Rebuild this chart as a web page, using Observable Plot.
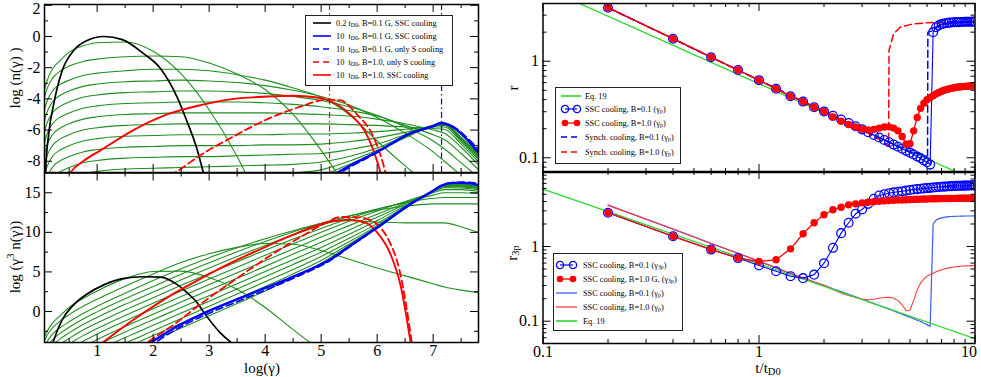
<!DOCTYPE html>
<html><head><meta charset="utf-8">
<script src="https://cdn.jsdelivr.net/npm/d3@7"></script>
<script src="https://cdn.jsdelivr.net/npm/@observablehq/plot@0.6"></script>
<style>
html,body{margin:0;padding:0;background:#fff;}
#chart{position:relative;width:981px;height:377px;overflow:hidden;background:#fff;font-family:"Liberation Serif","Times New Roman",serif;color:#000;}
#chart svg{position:absolute;left:0;top:0;background:transparent;overflow:visible;}
#chart svg text{font-family:"Liberation Serif","Times New Roman",serif !important;}
.lbl{position:absolute;font-size:15px;white-space:nowrap;line-height:1;}
.rot{transform:translate(-50%,-50%) rotate(-90deg);}
.ctr{transform:translate(-50%,-50%);}
.legend{position:absolute;background:#fff;border:1.5px solid #222;box-sizing:border-box;font-size:8.3px;}
.legend .row{position:absolute;left:0;height:12px;white-space:nowrap;}
.legend .row svg{position:absolute;top:0;}
.legend .row span{position:absolute;top:1px;line-height:11px;}
sub{font-size:70%;vertical-align:-0.25em;line-height:0;}
sup{font-size:70%;vertical-align:0.5em;line-height:0;}
</style></head><body><div id="chart"></div>
<script>
// ---------------- LEFT PANELS: log n(gamma) vs log(gamma) ----------------
const gammaGrid = [0.06,0.1,0.2,0.35,0.5,0.75,1,1.5,2,2.5,3,3.5,4,4.5,5,5.5,6,6.5,7,7.2,7.5,7.8];
const green1  = [-3.4,-2.9,-2.1,-1.5,-1.0,-0.6,-0.4,-0.35,-0.95,-2.4,-4.7,-7.7,-11.5,-15.8,-20.0,null,null,null,null,null,null,null];
const green2  = [-3.9,-3.4,-2.7,-2.2,-1.9,-1.6,-1.45,-1.3,-1.25,-1.3,-1.7,-2.4,-3.4,-5.0,-7.3,-9.9,-12.5,-15.0,-17.5,-18.5,-19.8,-21.0];
const green3  = [-4.7,-4.2,-3.5,-3.05,-2.8,-2.5,-2.35,-2.2,-2.1,-2.1,-2.2,-2.45,-2.8,-3.3,-3.9,-5.0,-6.7,-8.3,-9.8,-10.4,-11.8,-13.4];
const green4  = [-5.4,-4.9,-4.2,-3.75,-3.5,-3.2,-3.05,-2.9,-2.85,-2.8,-2.85,-2.95,-3.15,-3.45,-3.85,-4.4,-5.2,-6.2,-7.4,-8.0,-8.9,-9.8];
const green5  = [-6.1,-5.6,-4.9,-4.45,-4.2,-3.9,-3.75,-3.6,-3.55,-3.5,-3.5,-3.55,-3.65,-3.85,-4.1,-4.5,-5.05,-5.8,-6.7,-7.2,-8.1,-9.0];
const green6  = [-6.8,-6.3,-5.6,-5.15,-4.9,-4.6,-4.45,-4.3,-4.25,-4.2,-4.2,-4.2,-4.25,-4.35,-4.5,-4.75,-5.1,-5.7,-6.3,-6.6,-7.5,-8.5];
const green7  = [-7.5,-7.0,-6.3,-5.85,-5.6,-5.3,-5.15,-5.0,-4.95,-4.9,-4.9,-4.9,-4.9,-4.95,-5.0,-5.1,-5.3,-5.6,-6.0,-6.2,-7.1,-8.2];
const green8  = [-8.2,-7.7,-7.0,-6.55,-6.3,-6.0,-5.85,-5.7,-5.65,-5.6,-5.6,-5.6,-5.6,-5.6,-5.6,-5.65,-5.7,-5.8,-5.9,-5.95,-6.9,-8.0];
const green9  = [-8.9,-8.4,-7.7,-7.25,-7.0,-6.7,-6.55,-6.4,-6.35,-6.3,-6.3,-6.3,-6.3,-6.25,-6.25,-6.2,-6.1,-5.95,-5.8,-5.8,-6.75,-7.85];
const green10 = [-9.6,-9.1,-8.4,-7.95,-7.7,-7.4,-7.25,-7.1,-7.05,-7.0,-7.0,-7.0,-6.95,-6.95,-6.9,-6.75,-6.5,-6.15,-5.75,-5.7,-6.65,-7.75];
const green11 = [-10.3,-9.8,-9.1,-8.65,-8.4,-8.1,-7.95,-7.8,-7.75,-7.7,-7.7,-7.65,-7.6,-7.55,-7.5,-7.25,-6.9,-6.3,-5.75,-5.65,-6.6,-7.7];
const green12 = [-11.0,-10.5,-9.8,-9.35,-9.1,-8.8,-8.65,-8.5,-8.45,-8.4,-8.35,-8.3,-8.25,-8.2,-8.05,-7.7,-7.15,-6.4,-5.7,-5.6,-6.55,-7.6];
const green13 = [-11.6,-11.1,-10.4,-9.95,-9.7,-9.4,-9.25,-9.1,-9.05,-9.0,-8.95,-8.9,-8.85,-8.75,-8.55,-8.0,-7.3,-6.45,-5.7,-5.6,-6.5,-7.55];
const green14 = [-12.2,-11.7,-11.0,-10.55,-10.3,-10.0,-9.85,-9.7,-9.65,-9.6,-9.55,-9.5,-9.4,-9.2,-8.9,-8.2,-7.4,-6.5,-5.7,-5.58,-6.45,-7.5];

const blackX = [0.07,0.08,0.137,0.226,0.375,0.58,0.82,1.12,1.45,1.83,2.13,2.43,2.6,2.79,2.88,3.2,3.5];
const blackY = [-9.5,-8.6,-6.2,-4.3,-2.2,-0.9,-0.26,0,-0.2,-1.1,-2.05,-3.9,-5.4,-7.3,-8.5,-12.3,-15.0];
const blueX  = [1.7,1.95,2.4,2.84,3.74,4.63,5.17,5.5,6.0,6.6,7.0,7.13,7.35,7.55,7.8];
const blueY  = [-10.2,-9.8,-9.2,-8.95,-9.0,-9.1,-8.9,-8.3,-7.4,-6.2,-5.75,-5.55,-5.8,-6.4,-7.4];
const blueSX = [1.75,2.05,2.4,2.84,3.74,4.63,5.17,5.5,6.0,6.6,7.0,7.13,7.35,7.55,7.8];
const blueSY = [-10.4,-10.0,-9.5,-9.25,-9.3,-9.3,-9.05,-8.4,-7.45,-6.2,-5.75,-5.55,-5.75,-6.3,-7.2];
const redSX  = [1.6,1.89,2.4,2.85,3.44,4.04,4.63,5.1,5.35,5.64,5.9,6.05,6.2,6.4,6.62];
const redSY  = [-10.2,-9.6,-8.7,-7.6,-6.4,-5.3,-4.5,-4.05,-4.1,-5.0,-6.2,-7.5,-9.5,-14.0,-23.8];
const redX   = [0.45,0.52,0.75,1.06,1.65,2.25,2.85,3.44,4.04,4.5,4.9,5.2,5.52,5.8,6.0,6.24,6.42,6.6];
const redY   = [-9.2,-8.74,-8.0,-7.3,-6.0,-5.0,-4.4,-4.0,-3.85,-3.8,-3.9,-4.2,-5.0,-6.2,-8.0,-11.5,-16.0,-23.8];
const cutoffRed = [5.15];
const cutoffBlue = [7.15];

const leftLegendLabels = [
  "0.2 t<sub>D0</sub>, B=0.1 G, SSC cooling",
  "10&nbsp; t<sub>D0</sub>, B=0.1 G, SSC cooling",
  "10&nbsp; t<sub>D0</sub>, B=0.1 G, only S cooling",
  "10&nbsp; t<sub>D0</sub>, B=1.0, only S cooling",
  "10&nbsp; t<sub>D0</sub>, B=1.0, SSC cooling"
];
const xTicksLeft = [1,2,3,4,5,6,7];
const xMinorLeft = [0.5,1.5,2.5,3.5,4.5,5.5,6.5,7.5];
const yTicksTopLeft = [-8,-6,-4,-2,0,2];
const yMinorTopLeft = [-7,-5,-3,-1,1];
const yTicksBotLeft = [0,5,10,15];
const yMinorBotLeft = [-2.5,2.5,7.5,12.5];

// ---------------- RIGHT PANELS: r vs t/t_D0 ----------------
const tSSC = [0.2,0.4,0.6,0.8,1.0,1.2,1.4,1.6,1.8,2.0,2.2,2.4,2.6,2.8,3.0,3.2,3.4,3.6,3.8,4.0,4.2,4.4,4.6,4.8,5.0,5.2,5.4,5.6,5.8,6.0,6.2,6.4,6.6,6.8,7.0,7.2,7.4,7.6,7.8,8.0,8.2,8.4,8.6,8.8,9.0,9.2,9.4,9.6,9.8,10.0];
const rB01 = [3.58,1.71,1.10,0.81,0.636,0.518,0.434,0.382,0.334,0.302, 0.272,0.249,0.229,0.212,0.197,0.184,0.172,0.162,0.153,0.145, 0.137,0.130,0.124,0.118,0.113,0.108,0.103,0.099,0.094,0.090, 0.085,2.00,2.25,2.36,2.42,2.46,2.49,2.51,2.52,2.53, 2.54,2.54,2.55,2.55,2.56,2.56,2.56,2.56,2.57,2.57];
const rB10 = [3.58,1.71,1.10,0.81,0.636,0.518,0.434,0.382,0.334,0.302, 0.265,0.239,0.221,0.208,0.198,0.194,0.197,0.203,0.208,0.209, 0.203,0.190,0.166,0.138,0.140,0.190,0.262,0.325,0.368,0.400, 0.422,0.440,0.458,0.475,0.488,0.500,0.510,0.518,0.525,0.531, 0.537,0.541,0.544,0.547,0.549,0.551,0.553,0.554,0.555,0.556];
const r3pB01 = [2.83,1.37,0.91,0.70,0.557,0.467,0.400,0.377,0.42,0.598, 0.96,1.51,2.08,2.74,3.13,3.72,4.35,4.82,5.0,5.15, 5.3,5.4,5.5,5.6,5.7,5.8,5.87,5.93,6.0,6.05, 6.1,6.15,6.2,6.25,6.3,6.33,6.36,6.4,6.42,6.45, 6.47,6.49,6.5,6.52,6.53,6.54,6.55,6.56,6.57,6.57];
const r3pB10 = [2.83,1.37,0.91,0.70,0.63,0.664,0.93,1.48,2.08,2.66, 3.1,3.36,3.61,3.72,3.84,3.92,3.98,4.03,4.08,4.12, 4.15,4.18,4.2,4.23,4.25,4.27,4.29,4.3,4.32,4.33, 4.34,4.35,4.36,4.37,4.38,4.38,4.39,4.4,4.4,4.41, 4.41,4.42,4.42,4.42,4.43,4.43,4.43,4.43,4.43,4.43];
const synB01T = [0.2,0.4,0.6,0.8,1.0,1.5,2.0,3.0,4.0,5.0,6.03,6.05,6.3,6.6,7.5,10];
const synB01R = [3.58,1.71,1.10,0.81,0.636,0.41,0.302,0.197,0.145,0.115,0.105,2.0,2.05,2.25,2.46,2.57];
const synB10T = [0.2,0.4,0.6,0.8,1.0,1.5,2.0,2.5,3.0,3.5,3.98,4.0,4.2,4.5,5.2,6.0,8.0,10];
const synB10R = [3.58,1.71,1.10,0.81,0.636,0.41,0.302,0.235,0.196,0.162,0.132,1.3,1.92,2.25,2.44,2.5,2.56,2.6];
const eq19T = [0.1,10];
const eq19R = [5.85,0.0585];

const topRightLegendLabels = ["Eq. 19","SSC cooling, B=0.1 (γ<sub>p</sub>)","SSC cooling, B=1.0 (γ<sub>p</sub>)","Synch. cooling, B=0.1 (γ<sub>p</sub>)","Synch. cooling, B=1.0 (γ<sub>p</sub>)"];
const botRightLegendLabels = ["SSC cooling, B=0.1 (γ<sub>3p</sub>)","SSC cooling, B=1.0 G, (γ<sub>3p</sub>)","SSC cooling, B=0.1 (γ<sub>p</sub>)","SSC cooling, B=1.0 (γ<sub>p</sub>)","Eq. 19"];
const xTicksRight = [0.1,1,10];
const xMinorRight = [0.2,0.3,0.4,0.5,0.6,0.7,0.8,0.9,2,3,4,5,6,7,8,9];
const yTicksTopRight = [0.1,1];
const yMinorTopRight = [0.08,0.09,0.2,0.3,0.4,0.5,0.6,0.7,0.8,0.9,2,3];
const yTicksBotRight = [0.1,1];
const yMinorBotRight = [0.06,0.07,0.08,0.09,0.2,0.3,0.4,0.5,0.6,0.7,0.8,0.9,2,3,4,5,6,7,8,9];

// ---------------- drawing ----------------
const W = 981, H = 377;
const SERIF = "Liberation Serif, Times New Roman, serif";
const GREEN = "#1f8f1f", EQG = "#2fd82f", BLUE = "#0000ff", RED = "#ff0000";
const chart = document.getElementById("chart");

function rows(xs, ys){ const o=[]; xs.forEach((x,i)=>{ if(ys[i]!=null) o.push({x, y: ys[i]}); }); return o; }
function trows(ts, rs){ return ts.map((t,i)=>({t, r: rs[i]})); }
function fmt(d){ return String(d); }

function ticks(xMaj, xMin, yMaj, yMin, fw, fh){
  const L = 8, l = 4, s = {stroke:"#000", strokeWidth:1};
  return [
    Plot.tickX(xMaj, {x: d=>d, insetTop: fh-L, ...s}),
    Plot.tickX(xMaj, {x: d=>d, insetBottom: fh-L, ...s}),
    Plot.tickX(xMin, {x: d=>d, insetTop: fh-l, ...s}),
    Plot.tickX(xMin, {x: d=>d, insetBottom: fh-l, ...s}),
    Plot.tickY(yMaj, {y: d=>d, insetRight: fw-L, ...s}),
    Plot.tickY(yMaj, {y: d=>d, insetLeft: fw-L, ...s}),
    Plot.tickY(yMin, {y: d=>d, insetRight: fw-l, ...s}),
    Plot.tickY(yMin, {y: d=>d, insetLeft: fw-l, ...s})
  ];
}
const baseStyle = {fontFamily: SERIF, fontSize: "16px", background: "transparent", color: "#000", overflow: "visible"};
const greens = [green1,green2,green3,green4,green5,green6,green7,green8,green9,green10,green11,green12,green13,green14];

function add(svg){ svg.setAttribute("font-family", SERIF); chart.appendChild(svg); }

function leftMarks(bottom){
  const yAcc = bottom ? (d => d.y + 3*d.x) : (d => d.y);
  const opt = (extra) => ({x:"x", y:yAcc, curve:"monotone-x", clip:true, ...extra});
  return [
    ...greens.map(g => Plot.line(rows(gammaGrid, g), opt({stroke:GREEN, strokeWidth:1.1}))),
    Plot.line(rows(blackX, blackY), opt({stroke:"#000", strokeWidth:1.7})),
    Plot.line(rows(redSX, redSY), opt({stroke:RED, strokeWidth:1.8, strokeDasharray:"7,4"})),
    Plot.line(rows(redX, redY), opt({stroke:RED, strokeWidth:1.9})),
    Plot.line(rows(blueX, blueY), opt({stroke:BLUE, strokeWidth:2.4})),
    Plot.line(rows(blueSX, blueSY), opt({stroke:BLUE, strokeWidth:1.6, strokeDasharray:"7,4"}))
  ];
}

// Top-left
const tlFW = 478-44, tlFH = 172-4;
add(Plot.plot({
  width:W, height:H, marginLeft:44, marginRight:W-478, marginTop:4, marginBottom:H-172,
  style: baseStyle,
  x:{domain:[0.06,7.81], axis:null}, y:{domain:[-8.72,2.05], axis:null},
  marks:[
    ...leftMarks(false),
    Plot.ruleX(cutoffRed, {x:d=>d, stroke:RED, strokeWidth:1.2, strokeDasharray:"6,3,1.5,3"}),
    Plot.ruleX(cutoffBlue, {x:d=>d, stroke:BLUE, strokeWidth:1.2, strokeDasharray:"6,3,1.5,3"}),
    ...ticks(xTicksLeft, xMinorLeft, yTicksTopLeft, yMinorTopLeft, tlFW, tlFH),
    Plot.axisY(yTicksTopLeft.filter(d => d < 2), {tickSize:0, tickPadding:4, tickFormat:fmt, label:null}),
    Plot.axisY(yTicksTopLeft.filter(d => d >= 2), {tickSize:0, tickPadding:4, tickFormat:fmt, label:null, dy:4}),
    Plot.frame({stroke:"#000", strokeWidth:1.5})
  ]
}));

// Bottom-left
const blFW = 478-44, blFH = 342-172.5;
add(Plot.plot({
  width:W, height:H, marginLeft:44, marginRight:W-478, marginTop:172.5, marginBottom:H-342,
  style: baseStyle,
  x:{domain:[0.06,7.81], axis:null}, y:{domain:[-3.92,17.5], axis:null},
  marks:[
    ...leftMarks(true),
    ...ticks(xTicksLeft, xMinorLeft, yTicksBotLeft, yMinorBotLeft, blFW, blFH),
    Plot.axisY(yTicksBotLeft, {tickSize:0, tickPadding:4, tickFormat:fmt, label:null}),
    Plot.axisX(xTicksLeft, {tickSize:0, tickPadding:2, tickFormat:fmt, label:null}),
    Plot.frame({stroke:"#000", strokeWidth:1.5})
  ]
}));

// Top-right
const trFW = 974.5-542.5, trFH = 172-3;
const dataB01 = trows(tSSC, rB01), dataB10 = trows(tSSC, rB10);
add(Plot.plot({
  width:W, height:H, marginLeft:542.5, marginRight:W-974.5, marginTop:3, marginBottom:H-172,
  style: baseStyle,
  x:{type:"log", domain:[0.1,10], axis:null}, y:{type:"log", domain:[0.0704,3.96], axis:null},
  marks:[
    Plot.line(trows(eq19T, eq19R), {x:"t", y:"r", stroke:EQG, strokeWidth:1.3, clip:true}),
    Plot.line(trows(synB01T, synB01R), {x:"t", y:"r", stroke:BLUE, strokeWidth:1.5, strokeDasharray:"7,4", clip:true}),
    Plot.line(trows(synB10T, synB10R), {x:"t", y:"r", stroke:RED, strokeWidth:1.5, strokeDasharray:"7,4", clip:true}),
    Plot.line(dataB01, {x:"t", y:"r", stroke:BLUE, strokeWidth:1.1, clip:true}),
    Plot.dot(dataB01, {x:"t", y:"r", r:4.4, stroke:BLUE, strokeWidth:1.3, fill:"none", clip:true}),
    Plot.line(dataB10, {x:"t", y:"r", stroke:RED, strokeWidth:1.4, clip:true}),
    Plot.dot(dataB10, {x:"t", y:"r", r:3.7, fill:RED, clip:true}),
    ...ticks(xTicksRight, xMinorRight, yTicksTopRight, yMinorTopRight, trFW, trFH),
    Plot.axisY(yTicksTopRight, {tickSize:0, tickPadding:4, tickFormat:fmt, label:null}),
    Plot.frame({stroke:"#000", strokeWidth:1.5})
  ]
}));

// Bottom-right
const brFW = 974.5-542.5, brFH = 343-171;
const data3B01 = trows(tSSC, r3pB01), data3B10 = trows(tSSC, r3pB10);
add(Plot.plot({
  width:W, height:H, marginLeft:542.5, marginRight:W-974.5, marginTop:171, marginBottom:H-343,
  style: baseStyle,
  x:{type:"log", domain:[0.1,10], axis:null}, y:{type:"log", domain:[0.0503,10.09], axis:null},
  marks:[
    Plot.line(dataB01, {x:"t", y:"r", stroke:"#3a5cf0", strokeWidth:1.2, clip:true}),
    Plot.line(dataB10, {x:"t", y:"r", stroke:"#ff3b3b", strokeWidth:1.1, clip:true}),
    Plot.line(trows(eq19T, eq19R), {x:"t", y:"r", stroke:EQG, strokeWidth:1.3, clip:true}),
    Plot.line(data3B01, {x:"t", y:"r", stroke:BLUE, strokeWidth:1.1, clip:true}),
    Plot.dot(data3B01, {x:"t", y:"r", r:4.4, stroke:BLUE, strokeWidth:1.3, fill:"none", clip:true}),
    Plot.line(data3B10, {x:"t", y:"r", stroke:RED, strokeWidth:1.3, clip:true}),
    Plot.dot(data3B10, {x:"t", y:"r", r:3.7, fill:RED, clip:true}),
    ...ticks(xTicksRight, xMinorRight, yTicksBotRight, yMinorBotRight, brFW, brFH),
    Plot.axisY(yTicksBotRight, {tickSize:0, tickPadding:4, tickFormat:fmt, label:null}),
    Plot.axisX(xTicksRight.filter(d => d < 10), {tickSize:0, tickPadding:2, tickFormat:fmt, label:null}),
    Plot.axisX(xTicksRight.filter(d => d >= 10), {tickSize:0, tickPadding:2, tickFormat:fmt, label:null, dx:-6}),
    Plot.frame({stroke:"#000", strokeWidth:1.5})
  ]
}));

// ---------------- axis titles ----------------
function label(html, x, y, cls){
  const d = document.createElement("div");
  d.className = "lbl " + cls; d.innerHTML = html;
  d.style.left = x + "px"; d.style.top = y + "px";
  chart.appendChild(d);
}
label("log (n(γ) )", 15, 78, "rot");
label("log (γ<sup>3</sup> n(γ))", 15, 257, "rot");
label("r", 513, 88, "rot");
label("r<sub>3p</sub>", 512, 253, "rot");
label("log(γ)", 262, 368, "ctr");
label("t/t<sub>D0</sub>", 768, 368, "ctr");

// ---------------- legends ----------------
function swatch(kind, color, w, x){
  const h = 12, y = 6;
  let s = `<svg style="left:${x}px" width="${w}" height="${h}">`;
  if (kind === "solid") s += `<line x1="0" x2="${w}" y1="${y}" y2="${y}" stroke="${color}" stroke-width="1.6"/>`;
  if (kind === "thin") s += `<line x1="0" x2="${w}" y1="${y}" y2="${y}" stroke="${color}" stroke-width="1.3"/>`;
  if (kind === "dash") s += `<line x1="0" x2="${w}" y1="${y}" y2="${y}" stroke="${color}" stroke-width="1.6" stroke-dasharray="6,4"/>`;
  if (kind === "ring") s += `<line x1="4" x2="${w-4}" y1="${y}" y2="${y}" stroke="${color}" stroke-width="1.2"/><circle cx="4" cy="${y}" r="3.6" fill="none" stroke="${color}" stroke-width="1.3"/><circle cx="${w-4}" cy="${y}" r="3.6" fill="none" stroke="${color}" stroke-width="1.3"/>`;
  if (kind === "dot") s += `<line x1="4" x2="${w-4}" y1="${y}" y2="${y}" stroke="${color}" stroke-width="1.3"/><circle cx="4" cy="${y}" r="3.3" fill="${color}"/><circle cx="${w-4}" cy="${y}" r="3.3" fill="${color}"/>`;
  return s + "</svg>";
}
function legend(box, items, rowsY, swX, swW, textX){
  const d = document.createElement("div");
  d.className = "legend";
  Object.assign(d.style, {left: box[0]+"px", top: box[1]+"px", width: box[2]+"px", height: box[3]+"px"});
  items.forEach((it, i) => {
    const r = document.createElement("div");
    r.className = "row";
    r.style.top = (rowsY[i] - 6) + "px";
    r.style.width = box[2] + "px";
    r.innerHTML = swatch(it.kind, it.color, swW, swX) + `<span style="left:${textX}px">${it.label}</span>`;
    d.appendChild(r);
  });
  chart.appendChild(d);
}
legend([305,15,148,71], [
  {kind:"solid", color:"#000", label:leftLegendLabels[0]},
  {kind:"solid", color:BLUE, label:leftLegendLabels[1]},
  {kind:"dash", color:BLUE, label:leftLegendLabels[2]},
  {kind:"dash", color:RED, label:leftLegendLabels[3]},
  {kind:"solid", color:RED, label:leftLegendLabels[4]}
], [6.5,19.5,32.5,45.5,58.5], 7, 18, 30);
legend([555,87,126,77], [
  {kind:"solid", color:EQG, label:topRightLegendLabels[0]},
  {kind:"ring", color:BLUE, label:topRightLegendLabels[1]},
  {kind:"dot", color:RED, label:topRightLegendLabels[2]},
  {kind:"dash", color:BLUE, label:topRightLegendLabels[3]},
  {kind:"dash", color:RED, label:topRightLegendLabels[4]}
], [7.5,21,35,49,63.5], 5, 20, 29);
legend([553,253,130,78], [
  {kind:"ring", color:BLUE, label:botRightLegendLabels[0]},
  {kind:"dot", color:RED, label:botRightLegendLabels[1]},
  {kind:"thin", color:"#3a5cf0", label:botRightLegendLabels[2]},
  {kind:"thin", color:"#ff3b3b", label:botRightLegendLabels[3]},
  {kind:"solid", color:EQG, label:botRightLegendLabels[4]}
], [10.5,24.5,38.5,52.5,67], 2, 21, 29);
</script></body></html>
